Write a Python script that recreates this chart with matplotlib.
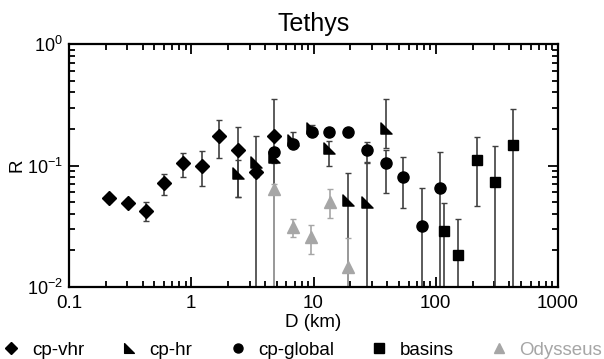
import matplotlib
matplotlib.use("Agg")
import matplotlib.pyplot as plt
import numpy as np
from matplotlib.lines import Line2D
from matplotlib.path import Path
from matplotlib.ticker import LogLocator, NullFormatter

plt.rcParams['font.family'] = ['Liberation Sans', 'DejaVu Sans']
plt.rcParams['mathtext.fontset'] = 'custom'
plt.rcParams['mathtext.rm'] = 'Liberation Sans'

# ---- data ----
vhr_D  = [0.212, 0.305, 0.426, 0.598, 0.851, 1.22, 1.69, 2.39, 3.38, 4.77]
vhr_R  = [0.0537, 0.0494, 0.0425, 0.0722, 0.104, 0.0997, 0.176, 0.1334, 0.0879, 0.176]
vhr_lo = [0.0505, 0.0460, 0.0349, 0.0572, 0.0809, 0.0678, 0.1147, 0.0553, 0.080, 0.001]
vhr_hi = [0.0570, 0.0535, 0.0499, 0.0856, 0.127, 0.131, 0.237, 0.206, 0.096, 0.351]

hr_D  = [2.39, 3.38, 4.77, 6.82, 9.64, 13.4, 19.2, 27.2, 39.1]
hr_R  = [0.0862, 0.1075, 0.118, 0.162, 0.202, 0.1386, 0.052, 0.0504, 0.202]
hr_lo = [0.0554, 0.001, 0.105, 0.145, 0.185, 0.099, 0.001, 0.001, 0.14]
hr_hi = [0.110, 0.176, 0.130, 0.188, 0.215, 0.160, 0.0873, 0.105, 0.351]

gl_D  = [4.77, 6.82, 9.64, 13.4, 19.2, 27.2, 39.1, 54.1, 76.5, 109.3]
gl_R  = [0.130, 0.150, 0.190, 0.190, 0.190, 0.134, 0.1055, 0.0809, 0.0318, 0.0649]
gl_lo = [0.120, 0.140, 0.180, 0.180, 0.173, 0.1075, 0.0597, 0.0444, 0.001, 0.001]
gl_hi = [0.140, 0.160, 0.200, 0.200, 0.200, 0.157, 0.134, 0.118, 0.0649, 0.128]

bs_D  = [116.4, 152.4, 215.8, 304.0, 429.7]
bs_R  = [0.0289, 0.0183, 0.111, 0.0736, 0.1475]
bs_lo = [0.001, 0.001, 0.0464, 0.001, 0.001]
bs_hi = [0.0489, 0.0363, 0.173, 0.1456, 0.294]

od_D  = [4.77, 6.82, 9.46, 13.6, 19.2]
od_R  = [0.0637, 0.031, 0.0256, 0.0504, 0.0147]
od_lo = [0.001, 0.0256, 0.0187, 0.0372, 0.001]
od_hi = [0.070, 0.036, 0.0324, 0.0637, 0.0252]

x_ticks = [0.1, 1, 10, 100, 1000]
x_tick_labels = ['0.1', '1', '10', '100', '1000']
labels = ['cp-vhr', 'cp-hr', 'cp-global', 'basins', 'Odysseus']

# ---- styles ----
tri_marker = Path([(-1, -1), (1, -1), (-1, 1), (-1, -1)],
                  [Path.MOVETO, Path.LINETO, Path.LINETO, Path.CLOSEPOLY])
black = '#000000'
barc = '#404040'
gray = '#a6a6a6'

fig = plt.figure(figsize=(6.04, 3.59), dpi=100)
ax = fig.add_axes([69/604, 1-287/359, (558-69)/604, (287-44)/359])

def draw(D, R, lo, hi, marker, ms, color, ecolor):
    D = np.array(D); R = np.array(R)
    yerr = np.vstack([R - np.array(lo), np.array(hi) - R])
    ax.errorbar(D, R, yerr=yerr, fmt='none', ecolor=ecolor, elinewidth=1.2,
                capsize=2.2, capthick=1.0, zorder=2)
    ax.plot(D, R, linestyle='none', marker=marker, ms=ms, color=color,
            markeredgecolor=color, zorder=3)

draw(vhr_D, vhr_R, vhr_lo, vhr_hi, 'D', 7.5, black, barc)
draw(hr_D, hr_R, hr_lo, hr_hi, tri_marker, 8, black, barc)
draw(gl_D, gl_R, gl_lo, gl_hi, 'o', 8, black, barc)
draw(bs_D, bs_R, bs_lo, bs_hi, 's', 7.5, black, barc)
draw(od_D, od_R, od_lo, od_hi, '^', 8, gray, gray)

ax.set_xscale('log')
ax.set_yscale('log')
ax.set_xlim(0.1, 1000)
ax.set_ylim(0.01, 1)
ax.set_xticks(x_ticks)
ax.set_xticklabels(x_tick_labels)
ax.xaxis.set_minor_locator(LogLocator(base=10, subs=np.arange(2, 10)))
ax.yaxis.set_minor_locator(LogLocator(base=10, subs=np.arange(2, 10)))
ax.xaxis.set_minor_formatter(NullFormatter())
ax.yaxis.set_minor_formatter(NullFormatter())
ax.tick_params(which='both', direction='in', top=True, right=True, width=1.3,
               colors='black')
ax.tick_params(axis='x', pad=6, labelsize=13.5)
ax.tick_params(axis='y', pad=4.5, labelsize=13)
ax.tick_params(which='major', length=7.5)
ax.tick_params(which='minor', length=4.5)
for s in ax.spines.values():
    s.set_linewidth(1.6)

ax.set_title('Tethys', fontsize=18, pad=9)
ax.set_xlabel('D (km)', fontsize=13.5, labelpad=1)
ax.set_ylabel('R', fontsize=13.5, labelpad=1)

handles = [
    Line2D([], [], linestyle='none', marker='D', ms=6, color=black),
    Line2D([], [], linestyle='none', marker=tri_marker, ms=7, color=black),
    Line2D([], [], linestyle='none', marker='o', ms=6.5, color=black),
    Line2D([], [], linestyle='none', marker='s', ms=6.5, color=black),
    Line2D([], [], linestyle='none', marker='^', ms=7, color=gray),
]
leg = fig.legend(handles, labels, loc='lower center', bbox_to_anchor=(0.5, 0.0),
                 ncol=5, frameon=False, fontsize=13.5, handlelength=1.0,
                 handletextpad=0.6, columnspacing=1.9, borderpad=0.0,
                 borderaxespad=0.0)
leg.get_texts()[4].set_color(gray)

fig.savefig('out.png', dpi=100)
